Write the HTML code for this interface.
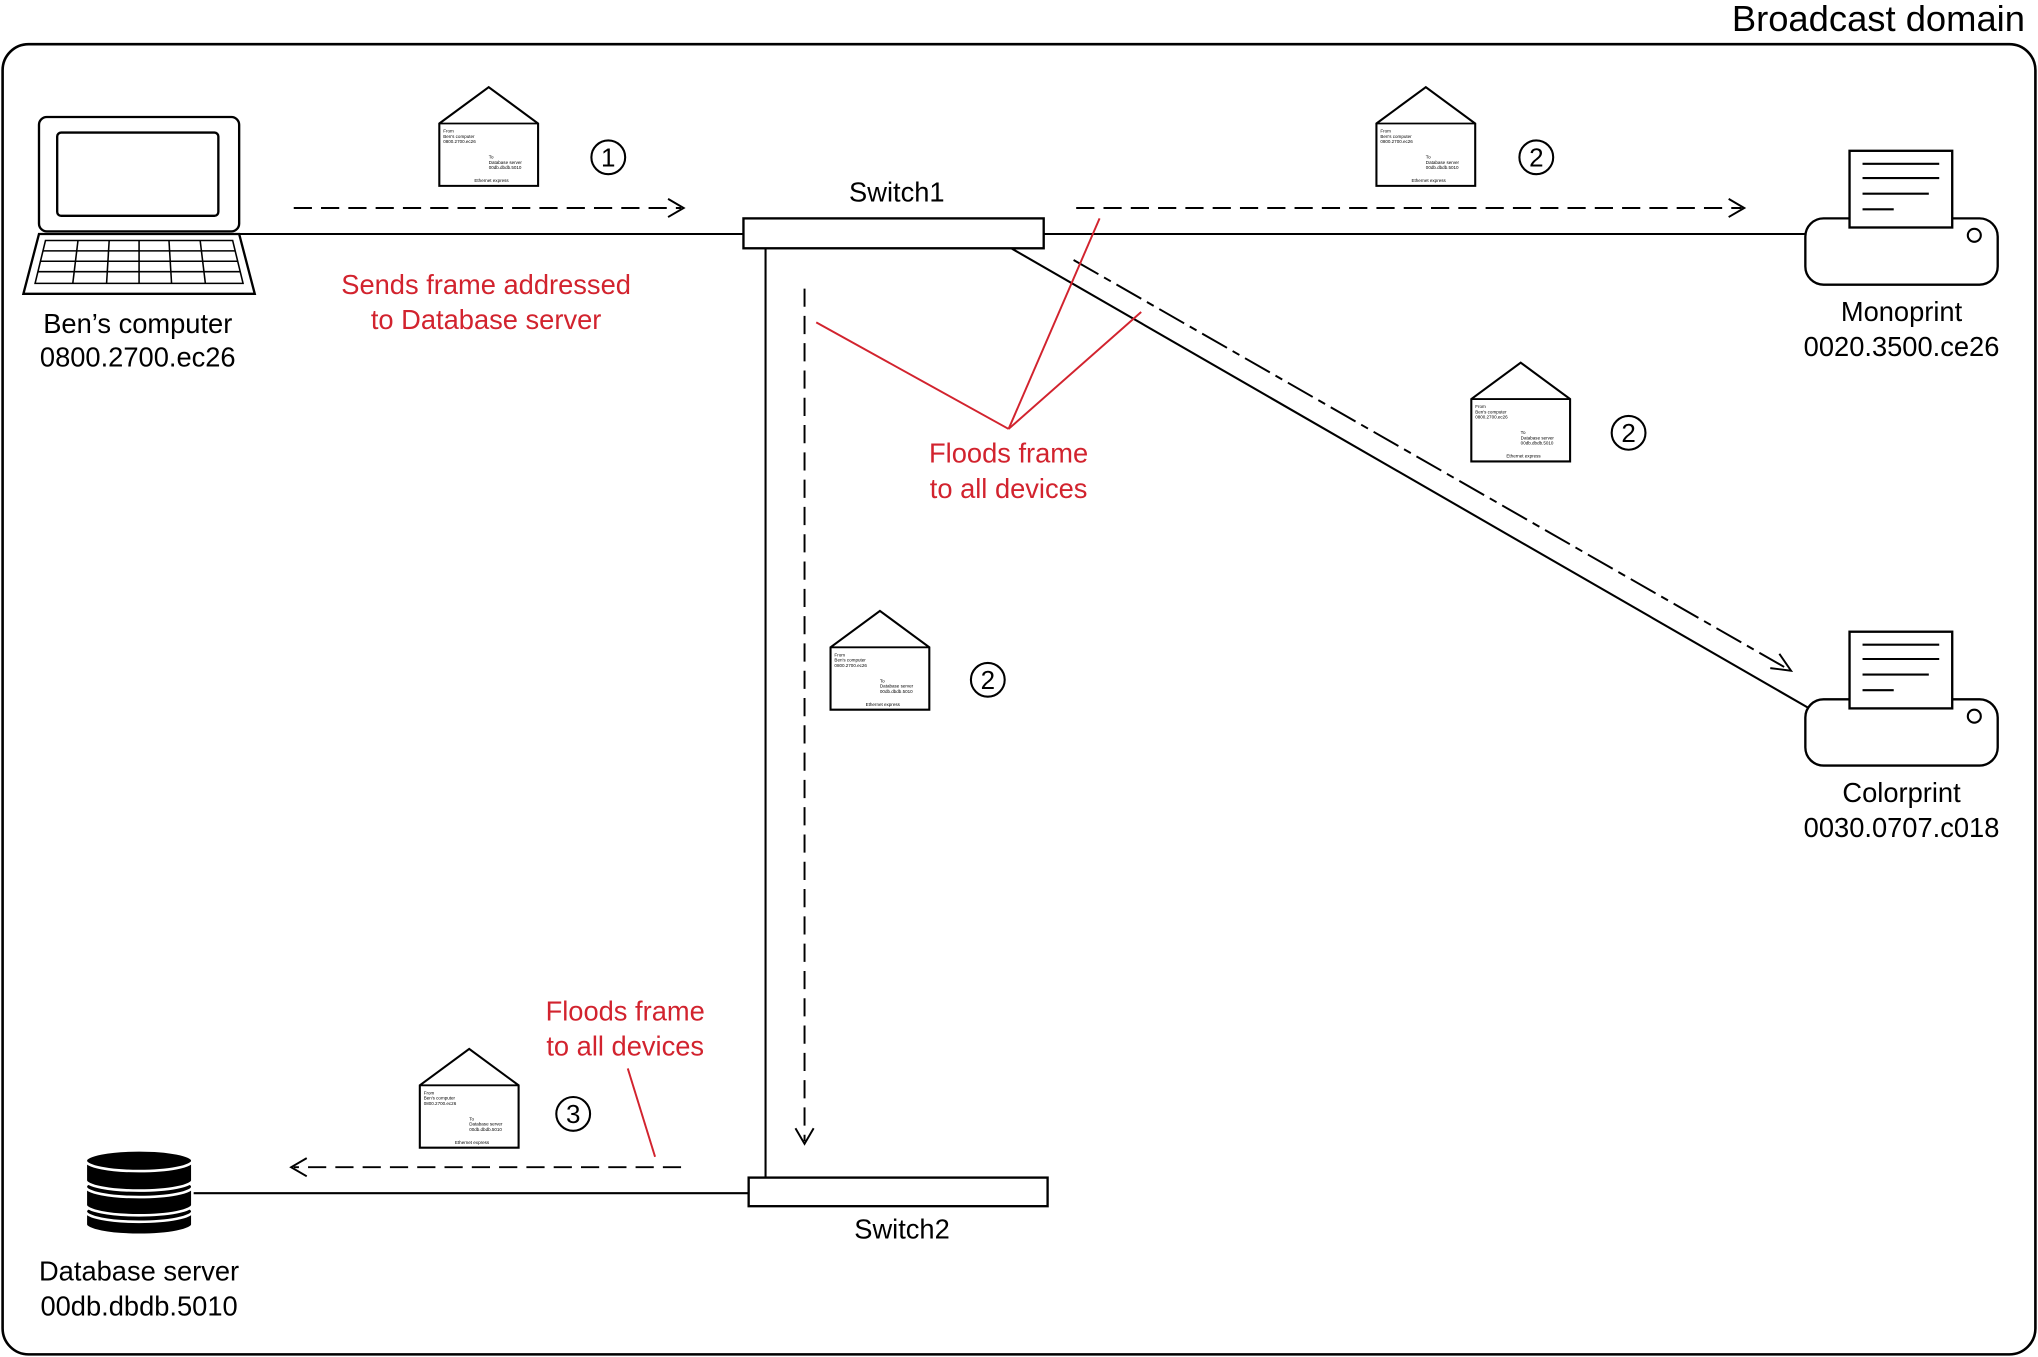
<!DOCTYPE html>
<html><head><meta charset="utf-8"><style>
html,body{margin:0;padding:0;background:#fff}
svg{display:block}
text{font-family:"Liberation Sans",sans-serif}
</style></head><body>
<svg width="2038" height="1357" viewBox="0 0 1568 1044" xmlns="http://www.w3.org/2000/svg">
<defs>
<g id="env">
<path d="M0,28 L38,0 L76,28 L76,76 L0,76 Z" fill="#fff" stroke="#000" stroke-width="1.6"/>
<line x1="0" y1="28" x2="76" y2="28" stroke="#000" stroke-width="1.4"/>
<text x="3" y="35" font-size="3.5">From</text>
<text x="3" y="39" font-size="3.5">Ben's computer</text>
<text x="3" y="43" font-size="3.5">0800.2700.ec26</text>
<text x="38" y="55" font-size="3.5">To</text>
<text x="38" y="59" font-size="3.5">Database server</text>
<text x="38" y="63" font-size="3.5">00db.dbdb.5010</text>
<text x="27" y="73" font-size="3.5">Ethernet express</text>
</g>
<g id="prn">
<rect x="0" y="52" width="148" height="51" rx="14" fill="#fff" stroke="#000" stroke-width="1.8"/>
<rect x="34" y="0" width="79" height="59" fill="#fff" stroke="#000" stroke-width="1.8"/>
<line x1="44" y1="10" x2="103" y2="10" stroke="#000" stroke-width="1.6"/>
<line x1="44" y1="21" x2="103" y2="21" stroke="#000" stroke-width="1.6"/>
<line x1="44" y1="33" x2="95" y2="33" stroke="#000" stroke-width="1.6"/>
<line x1="44" y1="45" x2="68" y2="45" stroke="#000" stroke-width="1.6"/>
<circle cx="130" cy="65" r="5" fill="#fff" stroke="#000" stroke-width="1.6"/>
</g>
</defs>
<rect x="2" y="34" width="1564" height="1008" rx="20" fill="none" stroke="#000" stroke-width="2"/>
<text x="1558" y="24" font-size="28" text-anchor="end">Broadcast domain</text>

<g stroke="#000" stroke-width="1.6" fill="none">
<line x1="184" y1="180" x2="572" y2="180"/>
<line x1="803" y1="180" x2="1390" y2="180"/>
<line x1="589" y1="191" x2="589" y2="906"/>
<line x1="778" y1="191" x2="1392" y2="545"/>
<line x1="148" y1="918" x2="576" y2="918"/>
</g>
<rect x="572" y="168" width="231" height="23" fill="#fff" stroke="#000" stroke-width="1.8"/>
<rect x="576" y="906" width="230" height="22" fill="#fff" stroke="#000" stroke-width="1.8"/>
<text x="690" y="155" font-size="21" text-anchor="middle">Switch1</text>
<text x="694" y="953" font-size="21" text-anchor="middle">Switch2</text>

<g stroke="#000" stroke-width="1.5" fill="none">
<line x1="226" y1="160" x2="524" y2="160" stroke-dasharray="14,7"/>
<path d="M514,153 L526,160 L514,167"/>
<line x1="828" y1="160" x2="1340" y2="160" stroke-dasharray="14,7"/>
<path d="M1330,153 L1342,160 L1330,167"/>
<line x1="826" y1="200" x2="1376" y2="515" stroke-dasharray="22,5,6,5"/>
<path d="M1362,514 L1378,516 L1369,503"/>
<line x1="619" y1="222" x2="619" y2="878" stroke-dasharray="14,7"/>
<path d="M612,868 L619,880 L626,868"/>
<line x1="524" y1="898" x2="226" y2="898" stroke-dasharray="14,7"/>
<path d="M236,891 L224,898 L236,905"/>
</g>

<use href="#env" x="338" y="67"/>
<use href="#env" x="1059" y="67"/>
<use href="#env" x="1132" y="279"/>
<use href="#env" x="639" y="470"/>
<use href="#env" x="323" y="807"/>

<g fill="#fff" stroke="#000" stroke-width="1.6">
<circle cx="468" cy="121" r="13"/><circle cx="1182" cy="121" r="13"/>
<circle cx="1253" cy="333" r="13"/><circle cx="760" cy="523" r="13"/>
<circle cx="441" cy="857" r="13"/>
</g>
<g font-size="20" text-anchor="middle">
<text x="468" y="128">1</text><text x="1182" y="128">2</text>
<text x="1253" y="340">2</text><text x="760" y="530">2</text>
<text x="441" y="864">3</text>
</g>

<g fill="#d2232e" font-size="21" text-anchor="middle">
<text x="374" y="226">Sends frame addressed</text>
<text x="374" y="253">to Database server</text>
<text x="776" y="356">Floods frame</text>
<text x="776" y="383">to all devices</text>
<text x="481" y="785">Floods frame</text>
<text x="481" y="812">to all devices</text>
</g>
<g stroke="#d2232e" stroke-width="1.5" fill="none">
<line x1="776" y1="330" x2="628" y2="248"/>
<line x1="776" y1="330" x2="846" y2="168"/>
<line x1="776" y1="330" x2="878" y2="240"/>
<line x1="483" y1="822" x2="504" y2="890"/>
</g>

<g stroke="#000" stroke-width="1.8" fill="#fff">
<rect x="30" y="90" width="154" height="88" rx="6"/>
<rect x="44" y="102" width="124" height="64" rx="3"/>
<path d="M30,180 L184,180 L196,226 L18,226 Z"/>
</g>
<g stroke="#000" stroke-width="1.2" fill="none">
<path d="M35,185 L179,185 L187,218 L27,218 Z"/>
<line x1="33" y1="193" x2="181" y2="193"/>
<line x1="31" y1="201" x2="183" y2="201"/>
<line x1="29" y1="209" x2="185" y2="209"/>
<line x1="60" y1="185" x2="56" y2="218"/>
<line x1="84" y1="185" x2="82" y2="218"/>
<line x1="107" y1="185" x2="107" y2="218"/>
<line x1="130" y1="185" x2="132" y2="218"/>
<line x1="154" y1="185" x2="158" y2="218"/>
</g>
<text x="106" y="256" font-size="21" text-anchor="middle">Ben’s computer</text>
<text x="106" y="282" font-size="21" text-anchor="middle">0800.2700.ec26</text>

<use href="#prn" x="1389" y="116"/>
<use href="#prn" x="1389" y="486"/>
<text x="1463" y="247" font-size="21" text-anchor="middle">Monoprint</text>
<text x="1463" y="274" font-size="21" text-anchor="middle">0020.3500.ce26</text>
<text x="1463" y="617" font-size="21" text-anchor="middle">Colorprint</text>
<text x="1463" y="644" font-size="21" text-anchor="middle">0030.0707.c018</text>

<g fill="#000" stroke="#fff" stroke-width="2">
<path d="M66,932 L66,942 A41,8 0 0 0 148,942 L148,932 Z"/>
<ellipse cx="107" cy="932" rx="41" ry="8"/>
<path d="M66,913 L66,927 A41,8 0 0 0 148,927 L148,913 Z"/>
<ellipse cx="107" cy="913" rx="41" ry="8"/>
<path d="M66,893 L66,908 A41,8 0 0 0 148,908 L148,893 Z"/>
<ellipse cx="107" cy="893" rx="41" ry="8"/>
</g>
<text x="107" y="985" font-size="21" text-anchor="middle">Database server</text>
<text x="107" y="1012" font-size="21" text-anchor="middle">00db.dbdb.5010</text>
</svg>
</body></html>
